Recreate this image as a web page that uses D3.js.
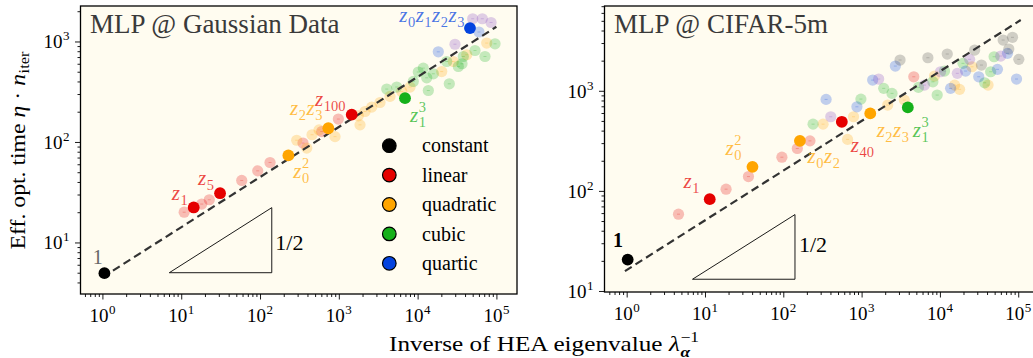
<!DOCTYPE html>
<html><head><meta charset="utf-8">
<script src="https://cdn.jsdelivr.net/npm/d3@7"></script>
<style>body{margin:0;background:#fff;} svg{display:block;} text{white-space:pre;}</style>
</head><body><svg id="c" width="1033" height="358"></svg>
<script>
// ---------------- DATA ----------------
const legendNames = ["constant", "linear", "quadratic", "cubic", "quartic"];
const xTickExponents = [0, 1, 2, 3, 4, 5];
const gaussYTickExponents = [1, 2, 3];
const cifarYTickExponents = [1, 2, 3];

// MLP @ Gaussian Data  [inverse eigenvalue, eff. opt. time]
const gaussConstant = [[1.06, 4.95]];
const gaussLinear = [[14.4, 22.3], [31.1, 30.9], [1458, 187]];
const gaussQuadratic = [[229, 73.5], [736, 137]];
const gaussCubic = [[6920, 273]];
const gaussQuartic = [[46200, 1358]];
const gaussLinearPale = [[10.9, 20.0], [18.2, 24.1], [22.7, 26.6], [58.6, 41.4], [93.5, 51.6], [134, 62.5], [351, 97.5], [607, 127], [986, 169]];
const gaussQuadraticPale = [[292, 104], [392, 86.9], [457, 118], [561, 132], [895, 113], [1767, 182], [2150, 201], [1858, 148], [2616, 222], [3334, 247], [4465, 284], [6285, 318], [8010, 352], [20230, 502], [28400, 632], [42000, 738], [75300, 964]];
const gaussCubicPale = [[4055, 336], [5430, 352], [8810, 400], [10200, 497], [11810, 543], [13050, 435], [13680, 325], [15820, 477], [23400, 632], [25250, 379], [32860, 564], [36600, 600], [38000, 709], [53500, 813], [71600, 709], [96000, 948]];
const gaussQuarticPale = [[18300, 789], [60100, 1242]];
const gaussQuinticPale = [[29800, 938], [50000, 1683], [66200, 1683], [85500, 1545]];
const gaussFit = [[1, 4.5], [100000, 1400]];
const gaussSlope = [[7.06, 5.0], [141, 5.0], [141, 22.2]];

// MLP @ CIFAR-5m
const cifarConstant = [[1.03, 20.6]];
const cifarLinear = [[11.5, 82.6], [559, 490]];
const cifarQuadratic = [[40.4, 174], [163, 316], [1290, 594]];
const cifarCubic = [[3890, 682]];
const cifarLinearPale = [[4.59, 58.5], [18.6, 104], [35.9, 139], [96, 217], [151, 265], [219, 316], [4640, 1380]];
const cifarQuadraticPale = [[322, 464], [662, 327], [789, 550], [2155, 720], [3516, 807], [8530, 1403], [15390, 1140], [17840, 1033], [25700, 1738], [41200, 1140]];
const cifarCubicPale = [[240, 464], [980, 826], [1915, 1057], [2446, 942], [5320, 1081], [8130, 1230], [9230, 906], [11460, 1574], [19700, 1879], [37300, 1202], [44500, 1549], [49200, 2188]];
const cifarQuarticPale = [[352, 820], [871, 692], [1384, 1279], [2697, 1766], [13680, 1057], [21300, 1574], [31300, 1380], [54300, 1637], [72900, 2366], [95100, 1310]];
const cifarQuinticPale = [[404, 550], [1652, 1310], [6350, 1140], [10180, 1549], [16680, 1493], [23950, 2061], [59800, 2223]];
const cifarSexticPale = [[3097, 2028], [7020, 2138], [12410, 2328], [27800, 2553], [33900, 1807], [64200, 3214], [75800, 2612], [84500, 3420], [101800, 2061]];
const cifarFit = [[0.95, 15.8], [107700, 5090]];
const cifarSlope = [[6.93, 13.1], [141, 13.1], [141, 58]];

// annotation texts (anchored to a highlighted point)
const gaussNotes = [
  {pt: gaussConstant[0], s: "constant", parts: [{b: "1"}], plain: true},
  {pt: gaussLinear[0], s: "linear", parts: [{b: "z", sub: "1"}]},
  {pt: gaussLinear[1], s: "linear", parts: [{b: "z", sub: "5"}]},
  {pt: gaussLinear[2], s: "linear", parts: [{b: "z", sub: "100"}]},
  {pt: gaussQuadratic[0], s: "quadratic", parts: [{b: "z", sub: "0", sup: "2"}]},
  {pt: gaussQuadratic[1], s: "quadratic", parts: [{b: "z", sub: "2"}, {b: "z", sub: "3"}]},
  {pt: gaussCubic[0], s: "cubic", parts: [{b: "z", sub: "1", sup: "3"}]},
  {pt: gaussQuartic[0], s: "quartic", parts: [{b: "z", sub: "0"}, {b: "z", sub: "1"}, {b: "z", sub: "2"}, {b: "z", sub: "3"}]}
];
const cifarNotes = [
  {pt: cifarConstant[0], s: "constant", parts: [{b: "1"}], plain: true, bold: true},
  {pt: cifarLinear[0], s: "linear", parts: [{b: "z", sub: "1"}]},
  {pt: cifarQuadratic[0], s: "quadratic", parts: [{b: "z", sub: "0", sup: "2"}]},
  {pt: cifarQuadratic[1], s: "quadratic", parts: [{b: "z", sub: "0"}, {b: "z", sub: "2"}]},
  {pt: cifarLinear[1], s: "linear", parts: [{b: "z", sub: "40"}]},
  {pt: cifarQuadratic[2], s: "quadratic", parts: [{b: "z", sub: "2"}, {b: "z", sub: "3"}]},
  {pt: cifarCubic[0], s: "cubic", parts: [{b: "z", sub: "1", sup: "3"}]}
];

// ---------------- STYLE / LAYOUT ----------------
const colors = {constant: "#000000", linear: "#e50000", quadratic: "#ffa500", cubic: "#15b01a", quartic: "#0343df", quintic: "#8040c0", sextic: "#454545"};
const FONT = "Liberation Serif, Times New Roman, serif";
const BG = "#fffcf0";
const gaussNoteOffsets = [[-11.6, -9.3], [-22, -7.7], [-22, -8.3], [-36.7, -9], [5, 23], [-38.3, -13.3], [5, 23.7], [-5, -6.3, "end"]];
const cifarNoteOffsets = [[-14.7, -12.3], [-26.3, -11], [-27, -11.7], [7.7, 22.3], [9, 30.3], [6.4, 23.7], [5, 29.7]];

const svg = d3.select("#c");
svg.append("rect").attr("width", 1033).attr("height", 358).attr("fill", "#fff");

function mathText(g, x, y, parts, o) {
  const grp = g.append("g");
  if (o.opacity != null) grp.attr("fill-opacity", o.opacity);
  const fs = o.size, ss = o.subSize || fs * 0.7;
  const mk = (tx, ty, size) => grp.append("text").attr("x", tx).attr("y", ty).attr("font-size", size)
    .attr("font-family", FONT).attr("fill", o.fill || "#000");
  let cx = 0;
  parts.forEach(p => {
    const t = mk(cx, 0, fs).attr("font-style", p.italic ? "italic" : "normal")
      .attr("font-weight", (p.bold || o.bold) ? "bold" : "normal").text(p.b);
    cx += t.node().getComputedTextLength();
    let w = 0;
    if (p.sub) {
      const s = mk(cx + 0.5, o.subDy != null ? o.subDy : fs * 0.25, ss)
        .attr("font-style", p.subItalic ? "italic" : "normal")
        .attr("font-weight", p.subBold ? "bold" : "normal").text(p.sub);
      w = Math.max(w, s.node().getComputedTextLength() + 0.5);
    }
    if (p.sup) {
      const s = mk(cx + 0.5, -(o.supDy != null ? o.supDy : fs * 0.42), o.supSize || ss).text(p.sup);
      w = Math.max(w, s.node().getComputedTextLength() + 0.5);
    }
    cx += w + (p.sub || p.sup ? (o.gap || 0) : 0);
  });
  let shift = 0;
  if (o.anchor === "middle") shift = -cx / 2; else if (o.anchor === "end") shift = -cx;
  grp.attr("transform", `translate(${x},${y})` + (o.rotate ? ` rotate(${o.rotate})` : "") +
    (o.stretch ? ` scale(${o.stretch},1)` : "") + ` translate(${shift},0)`);
  return grp;
}

function drawPanel(cfg) {
  const x = d3.scaleLog().domain(cfg.xdom).range([cfg.x0, cfg.x1]);
  const y = d3.scaleLog().domain(cfg.ydom).range([cfg.y1, cfg.y0]);
  const g = svg.append("g");
  const clipId = "clip-" + cfg.name;
  g.append("clipPath").attr("id", clipId).append("rect")
    .attr("x", cfg.x0).attr("y", cfg.y0).attr("width", cfg.x1 - cfg.x0).attr("height", cfg.y1 - cfg.y0);
  g.append("rect").attr("x", cfg.x0).attr("y", cfg.y0).attr("width", cfg.x1 - cfg.x0).attr("height", cfg.y1 - cfg.y0).attr("fill", BG);

  const plot = g.append("g").attr("clip-path", `url(#${clipId})`);
  cfg.pale.forEach(([series, data]) => {
    const pg = plot.append("g");
    pg.selectAll("circle").data(data).join("circle")
      .attr("cx", d => x(d[0])).attr("cy", d => y(d[1])).attr("r", 5.6)
      .attr("fill", colors[series]).attr("fill-opacity", 0.25);
    pg.selectAll("line").data(data).join("line")
      .attr("x1", d => x(d[0]) - 1.5).attr("x2", d => x(d[0]) + 1.5)
      .attr("y1", d => y(d[1])).attr("y2", d => y(d[1]))
      .attr("stroke", colors[series]).attr("stroke-opacity", 0.3).attr("stroke-width", 0.8);
  });
  plot.append("path").datum(cfg.fit)
    .attr("d", d3.line().x(d => x(d[0])).y(d => y(d[1])))
    .attr("fill", "none").attr("stroke", "#333").attr("stroke-width", 2.2).attr("stroke-dasharray", "8,4.5");
  plot.append("path").datum(cfg.slope)
    .attr("d", d3.line().x(d => x(d[0])).y(d => y(d[1])).curve(d3.curveLinearClosed))
    .attr("fill", "none").attr("stroke", "#000").attr("stroke-width", 0.9);
  const tr = cfg.slope[1];
  g.append("text").attr("x", x(tr[0]) + cfg.halfDx).attr("y", y(tr[1]) + cfg.halfDy)
    .attr("font-family", FONT).attr("font-size", 22).attr("fill", "#000").text("1/2");
  cfg.full.forEach(([series, data]) => {
    plot.append("g").selectAll("circle").data(data).join("circle")
      .attr("cx", d => x(d[0])).attr("cy", d => y(d[1])).attr("r", 5.9)
      .attr("fill", colors[series]);
  });
  cfg.notes.forEach((n, i) => {
    const off = cfg.noteOffsets[i];
    const px = x(n.pt[0]) + off[0], py = y(n.pt[1]) + off[1];
    if (n.plain) {
      g.append("text").attr("x", px).attr("y", py).attr("font-family", FONT).attr("font-size", 20)
        .attr("font-weight", n.bold ? "bold" : "normal")
        .attr("fill", n.bold ? "#000" : "#666").text(n.parts[0].b);
    } else {
      mathText(g, px, py, n.parts.map(p => Object.assign({italic: true}, p)),
        {size: 21, subSize: 14.5, fill: colors[n.s], opacity: 0.72, anchor: off[2] || "start", subDy: 5, supDy: 10, gap: 0.5});
    }
  });
  g.append("rect").attr("x", cfg.x0).attr("y", cfg.y0).attr("width", cfg.x1 - cfg.x0).attr("height", cfg.y1 - cfg.y0)
    .attr("fill", "none").attr("stroke", "#000").attr("stroke-width", 1.3);

  const xMajor = xTickExponents.map(e => 10 ** e).filter(v => v >= cfg.xdom[0] && v <= cfg.xdom[1]);
  const minorOf = dom => { const out = []; for (let e = -1; e <= 6; e++) for (let k = 2; k < 10; k++) { const v = k * 10 ** e; if (v >= dom[0] && v <= dom[1]) out.push(v); } return out; };
  const styleAxis = sel => { sel.select(".domain").remove(); sel.selectAll("line").attr("stroke", "#000").attr("stroke-width", 0.9); sel.selectAll("text").remove(); };
  g.append("g").attr("transform", `translate(0,${cfg.y1})`).call(d3.axisBottom(x).tickValues(xMajor).tickSize(5.5)).call(styleAxis);
  g.append("g").attr("transform", `translate(0,${cfg.y1})`).call(d3.axisBottom(x).tickValues(minorOf(cfg.xdom)).tickSize(3)).call(styleAxis);
  const yMajor = cfg.yExp.map(e => 10 ** e);
  g.append("g").attr("transform", `translate(${cfg.x0},0)`).call(d3.axisLeft(y).tickValues(yMajor).tickSize(5.5)).call(styleAxis);
  g.append("g").attr("transform", `translate(${cfg.x0},0)`).call(d3.axisLeft(y).tickValues(minorOf(cfg.ydom)).tickSize(3)).call(styleAxis);
  xTickExponents.forEach(e => {
    mathText(g, x(10 ** e), cfg.y1 + 27.5, [{b: "10", sup: String(e)}], {size: 19, supSize: 13, anchor: "middle", supDy: 8});
  });
  cfg.yExp.forEach(e => {
    mathText(g, cfg.x0 - 11, y(10 ** e) + 7, [{b: "10", sup: String(e)}], {size: 19, supSize: 13, anchor: "end", supDy: 8});
  });
  g.append("text").attr("x", cfg.x0 + 9.5).attr("y", 33).attr("font-family", FONT).attr("font-size", 27)
    .attr("fill", "#3a3a3a").text(cfg.title);
  return {x, y, g};
}

drawPanel({
  name: "gauss", title: "MLP @ Gaussian Data", x0: 80.5, x1: 517, y0: 6, y1: 294,
  xdom: [0.527, 182500], ydom: [3.07, 2254], yExp: gaussYTickExponents,
  pale: [["linear", gaussLinearPale], ["quadratic", gaussQuadraticPale], ["cubic", gaussCubicPale], ["quartic", gaussQuarticPale], ["quintic", gaussQuinticPale]],
  full: [["constant", gaussConstant], ["linear", gaussLinear], ["quadratic", gaussQuadratic], ["cubic", gaussCubic], ["quartic", gaussQuartic]],
  fit: gaussFit, slope: gaussSlope, halfDx: 3.5, halfDy: -23,
  notes: gaussNotes, noteOffsets: gaussNoteOffsets
});
drawPanel({
  name: "cifar", title: "MLP @ CIFAR-5m", x0: 604.5, x1: 1040, y0: 6, y1: 292,
  xdom: [0.521, 189700], ydom: [9.77, 7030], yExp: cifarYTickExponents,
  pale: [["linear", cifarLinearPale], ["quadratic", cifarQuadraticPale], ["cubic", cifarCubicPale], ["quartic", cifarQuarticPale], ["quintic", cifarQuinticPale], ["sextic", cifarSexticPale]],
  full: [["constant", cifarConstant], ["linear", cifarLinear], ["quadratic", cifarQuadratic], ["cubic", cifarCubic]],
  fit: cifarFit, slope: cifarSlope, halfDx: 4, halfDy: -27.5,
  notes: cifarNotes, noteOffsets: cifarNoteOffsets
});

// legend (left panel)
const lg = svg.append("g");
legendNames.forEach((n, i) => {
  const cy = 145.7 + i * 29.4;
  lg.append("circle").attr("cx", 389.3).attr("cy", cy).attr("r", 6.8).attr("fill", colors[n]).attr("stroke", "#000").attr("stroke-width", 1.2);
  lg.append("text").attr("x", 422).attr("y", cy + 6.6).attr("font-family", FONT).attr("font-size", 20).attr("fill", "#000").text(n);
});

// axis labels
mathText(svg, 25, 150.5, [{b: "Eff. opt. time "}, {b: "η", italic: true}, {b: " · "}, {b: "n", italic: true, sub: "iter"}],
  {size: 21, subSize: 14.5, anchor: "middle", rotate: -90, subDy: 4, stretch: 1.13});
mathText(svg, 544, 350.5, [{b: "Inverse of HEA eigenvalue "}, {b: "λ", italic: true, sub: "α", subBold: true, subItalic: true, sup: "−1"}],
  {size: 21, subSize: 14.5, anchor: "middle", subDy: 6, supDy: 9, stretch: 1.2});
</script></body></html>
